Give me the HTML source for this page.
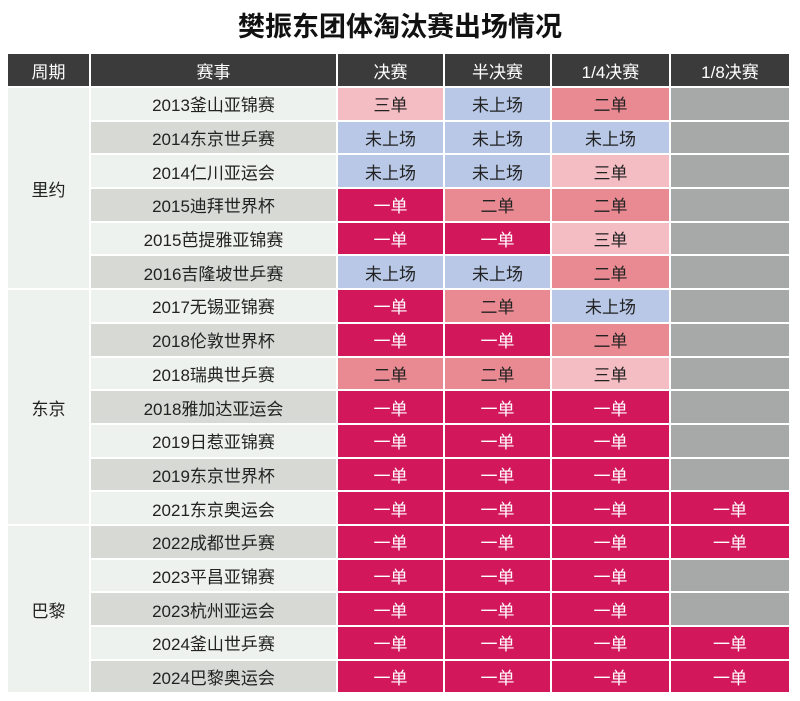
<!DOCTYPE html>
<html><head><meta charset="utf-8"><style>
body{margin:0;width:800px;height:701px;background:#fff;font-family:"Liberation Sans","Noto Sans CJK SC",sans-serif;overflow:hidden}
h1{position:absolute;top:0;left:0;width:800px;margin:0;text-align:center;font-size:27px;line-height:54px;font-weight:bold;color:#111}
table{position:absolute;left:6px;top:52px;border-collapse:separate;border-spacing:2px;table-layout:fixed}
td,th{padding:0;text-align:center;font-size:17px;font-weight:normal;height:31.7px;color:#222}
th{background:#3b3b3b;color:#fff;height:32px}
.p{background:#eef2ee}
.e{background:#eef2ee}
.d .e{background:#d6d9d4}
.a{background:#d2175a;color:#fff}
.b{background:#e98a92}
.c{background:#f4bcc3}
.n{background:#b8c8e6}
.g{background:#a7a8a8}
</style></head><body>
<h1>樊振东团体淘汰赛出场情况</h1>
<table>
<colgroup><col style="width:81px"><col style="width:245px"><col style="width:105px"><col style="width:105px"><col style="width:117px"><col style="width:118px"></colgroup>
<tr><th>周期</th><th>赛事</th><th>决赛</th><th>半决赛</th><th>1/4决赛</th><th>1/8决赛</th></tr>
<tr><td class="p" rowspan="6">里约</td><td class="e">2013釜山亚锦赛</td><td class="c">三单</td><td class="n">未上场</td><td class="b">二单</td><td class="g"></td></tr>
<tr class="d"><td class="e">2014东京世乒赛</td><td class="n">未上场</td><td class="n">未上场</td><td class="n">未上场</td><td class="g"></td></tr>
<tr><td class="e">2014仁川亚运会</td><td class="n">未上场</td><td class="n">未上场</td><td class="c">三单</td><td class="g"></td></tr>
<tr class="d"><td class="e">2015迪拜世界杯</td><td class="a">一单</td><td class="b">二单</td><td class="b">二单</td><td class="g"></td></tr>
<tr><td class="e">2015芭提雅亚锦赛</td><td class="a">一单</td><td class="a">一单</td><td class="c">三单</td><td class="g"></td></tr>
<tr class="d"><td class="e">2016吉隆坡世乒赛</td><td class="n">未上场</td><td class="n">未上场</td><td class="b">二单</td><td class="g"></td></tr>
<tr><td class="p" rowspan="7">东京</td><td class="e">2017无锡亚锦赛</td><td class="a">一单</td><td class="b">二单</td><td class="n">未上场</td><td class="g"></td></tr>
<tr class="d"><td class="e">2018伦敦世界杯</td><td class="a">一单</td><td class="a">一单</td><td class="b">二单</td><td class="g"></td></tr>
<tr><td class="e">2018瑞典世乒赛</td><td class="b">二单</td><td class="b">二单</td><td class="c">三单</td><td class="g"></td></tr>
<tr class="d"><td class="e">2018雅加达亚运会</td><td class="a">一单</td><td class="a">一单</td><td class="a">一单</td><td class="g"></td></tr>
<tr><td class="e">2019日惹亚锦赛</td><td class="a">一单</td><td class="a">一单</td><td class="a">一单</td><td class="g"></td></tr>
<tr class="d"><td class="e">2019东京世界杯</td><td class="a">一单</td><td class="a">一单</td><td class="a">一单</td><td class="g"></td></tr>
<tr><td class="e">2021东京奥运会</td><td class="a">一单</td><td class="a">一单</td><td class="a">一单</td><td class="a">一单</td></tr>
<tr class="d"><td class="p" rowspan="5">巴黎</td><td class="e">2022成都世乒赛</td><td class="a">一单</td><td class="a">一单</td><td class="a">一单</td><td class="a">一单</td></tr>
<tr><td class="e">2023平昌亚锦赛</td><td class="a">一单</td><td class="a">一单</td><td class="a">一单</td><td class="g"></td></tr>
<tr class="d"><td class="e">2023杭州亚运会</td><td class="a">一单</td><td class="a">一单</td><td class="a">一单</td><td class="g"></td></tr>
<tr><td class="e">2024釜山世乒赛</td><td class="a">一单</td><td class="a">一单</td><td class="a">一单</td><td class="a">一单</td></tr>
<tr class="d"><td class="e">2024巴黎奥运会</td><td class="a">一单</td><td class="a">一单</td><td class="a">一单</td><td class="a">一单</td></tr>
</table>
</body></html>
